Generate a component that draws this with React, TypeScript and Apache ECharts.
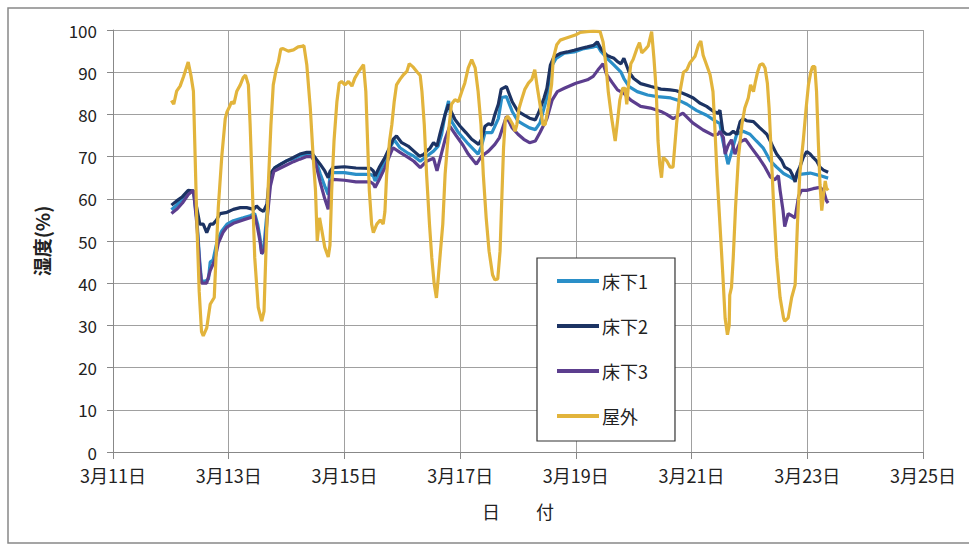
import React, { useEffect, useRef } from "react";
import * as echarts from "echarts";

const seriesNames = ["床下1", "床下2", "床下3", "屋外"];
const xTicks = [11, 13, 15, 17, 19, 21, 23, 25];
const yTicks = [0, 10, 20, 30, 40, 50, 60, 70, 80, 90, 100];

// [day of March, humidity %]
const floor1: number[][] = [
  [12.01, 57.4], [12.1, 58.5], [12.2, 60], [12.3, 61.5], [12.39, 62], [12.45, 55], [12.5, 45], [12.53, 40.5],
  [12.6, 40.5], [12.65, 41], [12.68, 45], [12.73, 45.5], [12.8, 50], [12.88, 52.4], [12.97, 54], [13.08, 54.8],
  [13.25, 55.5], [13.37, 56], [13.45, 56.5], [13.5, 54], [13.54, 50.8], [13.57, 47], [13.6, 47.5], [13.65, 55],
  [13.71, 63], [13.76, 66.5], [13.8, 67.4], [13.9, 68.2], [14.0, 69], [14.12, 69.5], [14.23, 70.2], [14.35, 70.6],
  [14.43, 70.6], [14.49, 69.8], [14.58, 66], [14.66, 63], [14.72, 61], [14.75, 65.5], [14.8, 66.2], [15.0, 66.2],
  [15.2, 65.8], [15.45, 65.8], [15.5, 65.4], [15.53, 64.2], [15.6, 66], [15.7, 68.9], [15.79, 72.1], [15.86, 74],
  [15.96, 72.1], [16.1, 70.8], [16.2, 70.1], [16.31, 68.9], [16.42, 70.1], [16.54, 71.3], [16.62, 72.5], [16.68, 75.3],
  [16.74, 80], [16.8, 83.2], [16.85, 78.4], [16.97, 75.7], [17.14, 73], [17.31, 70.6], [17.37, 72.5], [17.43, 75.7],
  [17.55, 75.7], [17.66, 79], [17.72, 84], [17.8, 84.2], [17.9, 80.7], [18.0, 78.4], [18.1, 77.6], [18.2, 76.8],
  [18.3, 76.4], [18.38, 78], [18.5, 84], [18.56, 90.9], [18.66, 93.3], [18.8, 94.5], [18.97, 94.8], [19.14, 95.6],
  [19.31, 96], [19.37, 96.4], [19.43, 95], [19.54, 93.3], [19.66, 91.7], [19.78, 90], [19.83, 88.5], [19.92, 86.6],
  [20.06, 85.4], [20.24, 84.6], [20.41, 84.2], [20.64, 83.9], [20.8, 83.2], [20.92, 82.4], [21.09, 80.9], [21.26, 79.8],
  [21.38, 78.7], [21.49, 77.8], [21.54, 73.7], [21.63, 68.2], [21.69, 71], [21.78, 75.3], [21.89, 76], [22.01, 75.3],
  [22.12, 73.7], [22.24, 72], [22.36, 69], [22.47, 67.5], [22.59, 66], [22.7, 65.2], [22.79, 64.4], [22.82, 65.8],
  [22.87, 65.8], [23.05, 66.1], [23.22, 65.5], [23.36, 64.9],
];

const floor2: number[][] = [
  [12.01, 58.5], [12.1, 59.5], [12.2, 60.5], [12.3, 62], [12.39, 61.8], [12.45, 57.7], [12.5, 54], [12.56, 54],
  [12.62, 52], [12.68, 54], [12.73, 54], [12.79, 55], [12.85, 56.5], [12.97, 56.8], [13.08, 57.5], [13.2, 57.9],
  [13.31, 57.9], [13.43, 57.5], [13.48, 58.3], [13.54, 57.5], [13.6, 57], [13.66, 58.7], [13.71, 65.8], [13.8, 67.4],
  [13.9, 68.2], [14.0, 69], [14.12, 69.8], [14.23, 70.6], [14.35, 71], [14.43, 71], [14.49, 69.8], [14.58, 68.2],
  [14.66, 66.6], [14.72, 65], [14.75, 66.5], [14.8, 67.4], [15.0, 67.6], [15.2, 67.3], [15.45, 67.2], [15.5, 66.6],
  [15.53, 65.4], [15.6, 67.4], [15.7, 69.8], [15.78, 72.1], [15.84, 74.1], [15.9, 74.9], [15.99, 73.3], [16.1, 72.5],
  [16.2, 71.3], [16.3, 70.1], [16.37, 70.5], [16.42, 71.3], [16.48, 72], [16.54, 73.3], [16.6, 72.5], [16.65, 75.3],
  [16.74, 80], [16.8, 82.4], [16.85, 80.5], [16.91, 78.8], [17.0, 77.2], [17.1, 75.7], [17.2, 74.1], [17.32, 72.9],
  [17.37, 74.1], [17.43, 77.2], [17.49, 77.8], [17.55, 77.5], [17.6, 80], [17.66, 82.4], [17.71, 86], [17.8, 86.6],
  [17.9, 83], [18.0, 80.7], [18.1, 79.9], [18.2, 79.1], [18.3, 78.7], [18.36, 80.5], [18.45, 83.9], [18.5, 86.2],
  [18.56, 91.7], [18.62, 93.6], [18.74, 94.5], [18.85, 94.8], [18.97, 95.2], [19.08, 95.6], [19.2, 96], [19.31, 96.4],
  [19.37, 97.2], [19.43, 95.6], [19.48, 94.8], [19.54, 94], [19.6, 93.6], [19.66, 93.3], [19.72, 92.5], [19.78, 92],
  [19.83, 93.3], [19.92, 90], [20.0, 88.5], [20.12, 87.3], [20.3, 86.6], [20.47, 86], [20.63, 85.8], [20.74, 85.6],
  [20.92, 84.6], [21.03, 83.9], [21.14, 82.7], [21.26, 81.9], [21.38, 80.7], [21.46, 80.3], [21.49, 81], [21.54, 76],
  [21.6, 75.3], [21.66, 75.3], [21.72, 76], [21.78, 75.3], [21.84, 78.3], [21.89, 79], [21.95, 78.5], [22.07, 78.3],
  [22.18, 76.8], [22.3, 75.3], [22.36, 73.7], [22.41, 72.2], [22.47, 70.6], [22.56, 69], [22.61, 67.5], [22.7, 66.8],
  [22.76, 65.2], [22.79, 64], [22.82, 66], [22.87, 67.5], [22.93, 69.8], [22.99, 71.2], [23.05, 70.6], [23.1, 69.8],
  [23.16, 69], [23.22, 67.5], [23.28, 66.8], [23.36, 66.3],
];

const floor3: number[][] = [
  [12.01, 56.5], [12.1, 57.5], [12.2, 59], [12.3, 61], [12.39, 62], [12.45, 54], [12.5, 44], [12.53, 40],
  [12.62, 40], [12.68, 43], [12.76, 45.5], [12.82, 49.5], [12.9, 52], [12.97, 53.3], [13.08, 54.2], [13.25, 55],
  [13.37, 55.5], [13.45, 56], [13.5, 53], [13.54, 50], [13.57, 47], [13.62, 48], [13.67, 56], [13.72, 63],
  [13.78, 66.5], [13.85, 67], [14.0, 68], [14.12, 68.8], [14.23, 69.4], [14.35, 70], [14.43, 70], [14.5, 68.5],
  [14.58, 64], [14.66, 60], [14.72, 57.5], [14.75, 64], [14.8, 64.6], [15.0, 64.4], [15.2, 64], [15.45, 64],
  [15.5, 63.5], [15.53, 62.7], [15.6, 64.5], [15.7, 67.4], [15.79, 70.5], [15.84, 72.1], [15.96, 71], [16.1, 69.8],
  [16.2, 68.9], [16.31, 67.4], [16.42, 68.9], [16.54, 69.6], [16.6, 66.6], [16.66, 69.8], [16.74, 74.1], [16.82, 77.2],
  [16.93, 75], [17.05, 72.7], [17.14, 70.6], [17.28, 68.2], [17.37, 70.1], [17.49, 71.3], [17.6, 72.9], [17.68, 74.5],
  [17.8, 79.5], [17.9, 76.8], [18.0, 75.3], [18.1, 74.1], [18.2, 73.3], [18.3, 73.7], [18.38, 75.7], [18.5, 79],
  [18.59, 83.4], [18.68, 85.4], [18.8, 86.2], [18.9, 86.8], [19.0, 87.4], [19.2, 88.2], [19.3, 89], [19.38, 90.5],
  [19.47, 92], [19.53, 89.5], [19.62, 87.7], [19.72, 85.8], [19.83, 85], [19.95, 83.4], [20.12, 81.9], [20.29, 81.5],
  [20.47, 80.7], [20.57, 80], [20.68, 79], [20.85, 80.3], [21.02, 78], [21.2, 76.3], [21.37, 75.1], [21.46, 75.3],
  [21.49, 76], [21.55, 74.5], [21.58, 70.6], [21.63, 72.6], [21.69, 74], [21.75, 70.6], [21.84, 73.5], [21.93, 74.1],
  [22.04, 72], [22.16, 69.8], [22.27, 67.5], [22.36, 65.2], [22.44, 64.5], [22.5, 65.5], [22.53, 62], [22.58, 57.3],
  [22.61, 53.4], [22.67, 56.5], [22.73, 56], [22.79, 55.5], [22.85, 60.6], [22.9, 62], [22.99, 62], [23.1, 62.4],
  [23.22, 62.7], [23.28, 62], [23.33, 59.6], [23.36, 59],
];

const outdoor: number[][] = [
  [12.01, 83.3], [12.05, 82.4], [12.1, 85.5], [12.16, 86.7], [12.22, 89], [12.3, 92.4], [12.35, 89], [12.39, 85.5],
  [12.42, 69.8], [12.45, 54], [12.49, 38], [12.53, 28.5], [12.56, 27.5], [12.62, 29.4], [12.68, 35], [12.75, 36.6],
  [12.78, 46], [12.82, 58], [12.88, 70], [12.94, 79], [12.97, 80.6], [13.02, 82], [13.05, 83], [13.09, 82.5],
  [13.14, 85.5], [13.2, 87], [13.25, 88.7], [13.29, 89.3], [13.34, 87], [13.37, 77.6], [13.41, 61.9], [13.45, 46],
  [13.51, 34.3], [13.57, 31], [13.61, 33.3], [13.64, 46], [13.68, 62], [13.73, 77.6], [13.77, 87], [13.82, 90.6],
  [13.86, 92.5], [13.9, 95.5], [13.94, 95.6], [14.03, 95], [14.12, 95.3], [14.2, 96], [14.26, 96.1], [14.3, 96.3],
  [14.35, 91.7], [14.41, 81.5], [14.46, 69.8], [14.5, 62], [14.53, 50], [14.57, 55.5], [14.61, 52.5], [14.66, 48.5],
  [14.72, 46.2], [14.75, 49], [14.78, 62], [14.82, 73.7], [14.87, 83], [14.91, 87.4], [14.95, 87.8], [15.01, 87],
  [15.07, 87.8], [15.13, 86.7], [15.18, 88.6], [15.24, 90], [15.3, 91.2], [15.33, 91.8], [15.37, 85.4], [15.4, 73.7],
  [15.43, 62], [15.47, 54], [15.5, 52], [15.56, 54], [15.62, 55], [15.67, 54], [15.7, 57], [15.73, 65.8],
  [15.78, 73.7], [15.82, 77.6], [15.86, 83], [15.9, 87], [15.96, 88.3], [16.02, 89.4], [16.08, 90.2], [16.12, 92],
  [16.19, 91.2], [16.26, 90], [16.31, 89.2], [16.34, 85.4], [16.38, 77.6], [16.42, 65.8], [16.47, 54], [16.51, 46],
  [16.55, 40], [16.59, 36.5], [16.62, 41], [16.65, 46], [16.7, 54], [16.74, 65.8], [16.8, 76], [16.85, 82.4],
  [16.91, 83.5], [16.97, 83], [17.03, 85.5], [17.08, 87.4], [17.14, 91], [17.2, 93], [17.26, 91], [17.31, 85.5],
  [17.36, 77.6], [17.4, 65.8], [17.45, 55.5], [17.5, 47.6], [17.56, 42], [17.6, 40.8], [17.65, 41], [17.69, 47.6],
  [17.72, 60], [17.75, 72], [17.78, 78.7], [17.82, 79.6], [17.86, 78.8], [17.91, 77.6], [17.95, 76], [17.98, 77.6],
  [18.02, 81.5], [18.06, 83.4], [18.12, 86], [18.18, 87.4], [18.24, 88.3], [18.29, 90.6], [18.33, 86.7], [18.38, 82.4],
  [18.43, 77.6], [18.47, 77.6], [18.52, 81.5], [18.58, 87], [18.61, 93.3], [18.67, 96.5], [18.73, 97.6], [18.81, 98],
  [18.9, 98.4], [18.99, 98.8], [19.07, 99.4], [19.19, 99.6], [19.3, 99.7], [19.42, 99.6], [19.47, 97.2], [19.52, 91.7],
  [19.56, 85.4], [19.62, 79], [19.68, 73.7], [19.72, 78.4], [19.76, 83.4], [19.81, 86.2], [19.85, 86.2], [19.88, 82.4],
  [19.91, 87], [19.95, 92], [19.99, 93], [20.05, 95.4], [20.1, 97], [20.14, 94.6], [20.2, 95.4], [20.25, 96.2],
  [20.31, 99.6], [20.35, 93.2], [20.39, 85.4], [20.42, 73.7], [20.45, 68.2], [20.48, 65], [20.51, 69.8], [20.57, 69],
  [20.63, 67.5], [20.68, 67.5], [20.74, 77.6], [20.8, 85.4], [20.86, 90], [20.92, 90.6], [20.97, 92.2], [21.06, 93.8],
  [21.12, 96.5], [21.16, 97.4], [21.2, 94], [21.26, 91.7], [21.32, 89.4], [21.37, 85.4], [21.4, 77.6], [21.44, 65.8],
  [21.49, 54], [21.54, 42], [21.58, 31.7], [21.62, 27.8], [21.65, 30], [21.66, 37.2], [21.69, 39], [21.72, 46],
  [21.76, 58], [21.81, 69.8], [21.87, 77.6], [21.92, 81.5], [21.98, 83.9], [22.02, 87], [22.07, 85.4], [22.1, 87.5],
  [22.14, 90], [22.18, 91.7], [22.23, 92], [22.27, 91], [22.31, 87.4], [22.34, 81.5], [22.38, 69.8], [22.42, 58],
  [22.47, 46], [22.53, 36.6], [22.59, 31.7], [22.61, 31], [22.67, 31.8], [22.73, 36.6], [22.79, 39.6], [22.83, 54],
  [22.87, 65.8], [22.93, 73.7], [22.98, 81.5], [23.02, 87], [23.06, 90], [23.09, 91.3], [23.13, 91.3], [23.16, 85.4],
  [23.19, 73.7], [23.22, 63.4], [23.25, 57.2], [23.28, 61], [23.31, 64.2], [23.33, 62.6], [23.36, 62],
];

const colors = ["#2a8fc8", "#1c3363", "#5c3e8e", "#e2b43c"];
const FONT = "'Noto Sans CJK JP', 'Noto Sans', sans-serif";

export default function App() {
  const ref = useRef<HTMLDivElement>(null);
  useEffect(() => {
    if (!ref.current) return;
    const chart = echarts.init(ref.current, null, { renderer: "svg" });
    const allData = [floor1, floor2, floor3, outdoor];
    chart.setOption({
      animation: false,
      backgroundColor: "#ffffff",
      textStyle: { fontFamily: FONT },
      grid: { left: 113, right: 46, top: 30, bottom: 93, containLabel: false },
      graphic: [
        {
          type: "rect",
          shape: { x: 8, y: 8, width: 975, height: 535 },
          style: { fill: "none", stroke: "#888", lineWidth: 1.5 },
          silent: true,
          z: -1,
        },
      ],
      legend: {
        orient: "vertical",
        left: 537,
        top: 258,
        padding: [14, 27, 16, 20],
        itemGap: 27,
        itemWidth: 42,
        itemHeight: 4,
        icon: "rect",
        borderColor: "#333",
        borderWidth: 1.2,
        backgroundColor: "#fff",
        textStyle: { fontSize: 18, color: "#222", fontFamily: FONT, padding: [0, 0, 0, -2] },
        data: seriesNames,
      },
      xAxis: {
        type: "value",
        min: xTicks[0],
        max: xTicks[xTicks.length - 1],
        interval: 2,
        name: "日　　付",
        nameLocation: "middle",
        nameGap: 50,
        nameTextStyle: { fontSize: 18, color: "#222", fontFamily: FONT },
        axisLine: { show: true, lineStyle: { color: "#888", width: 1 } },
        axisTick: { show: true, length: 7, lineStyle: { color: "#888" } },
        splitLine: { show: true, lineStyle: { color: "#a0a0a0", width: 1 } },
        axisLabel: {
          fontSize: 18,
          lineHeight: 18,
          color: "#222",
          margin: 14,
          fontFamily: FONT,
          formatter: (v: number) => `3月${v}日`,
        },
      },
      yAxis: {
        type: "value",
        min: yTicks[0],
        max: yTicks[yTicks.length - 1],
        interval: 10,
        name: "湿度(%)",
        nameLocation: "middle",
        nameGap: 62,
        nameRotate: 90,
        nameTextStyle: { fontSize: 19, fontWeight: "bold", color: "#222", fontFamily: FONT },
        axisLine: { show: true, lineStyle: { color: "#888", width: 1 } },
        axisTick: { show: true, length: 6, lineStyle: { color: "#888" } },
        splitLine: { show: true, lineStyle: { color: "#a0a0a0", width: 1 } },
        axisLabel: { fontSize: 17, lineHeight: 15, color: "#222", margin: 16, fontFamily: FONT, padding: [0, 0, 5, 0] },
      },
      series: seriesNames.map((name, i) => ({
        name,
        type: "line",
        data: allData[i],
        showSymbol: false,
        symbol: "none",
        color: colors[i],
        lineStyle: { width: 3.2, color: colors[i] },
        z: 2 + i,
      })),
    });
    return () => chart.dispose();
  }, []);
  return (
    <div
      ref={ref}
      style={{ position: "fixed", left: 0, top: 0, width: 969, height: 545, background: "#fff" }}
    />
  );
}
